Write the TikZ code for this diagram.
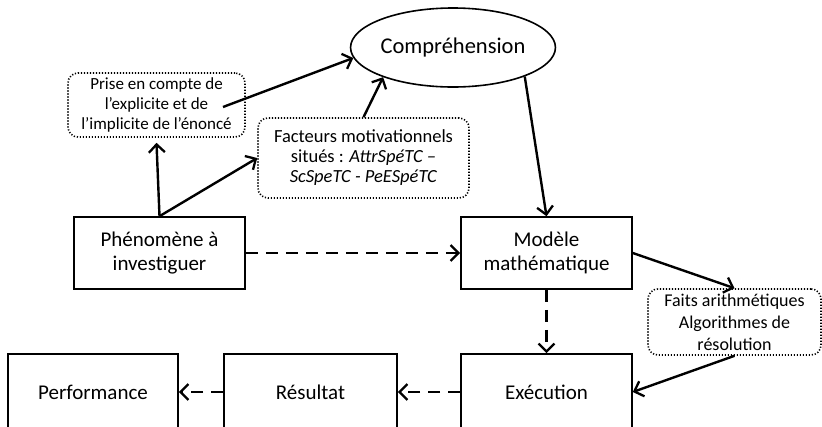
\documentclass[tikz,border=0pt]{standalone}
\usepackage{fontspec}
\setmainfont{Carlito}
\usetikzlibrary{arrows.meta,shapes.geometric}

\tikzset{
  box/.style={draw, line width=1.6pt, align=center, inner sep=0pt,
    minimum width=171pt, minimum height=72pt, font=\fontsize{21}{24}\selectfont},
  note/.style={draw, line width=1.6pt, dash pattern=on 1.2pt off 1.8pt,
    rounded corners=10pt, align=center, inner sep=0pt},
  link/.style={line width=2.4pt, -{Straight Barb[length=8pt,width=16pt,line width=2.3pt]}},
  dlink/.style={link, dash pattern=on 12pt off 8pt},
}

\begin{document}
\begin{tikzpicture}[x=1pt, y=-1pt]
\useasboundingbox (0,0) rectangle (822,426);
\clip (0,0) rectangle (822,426);

% ellipse at the top
\node[draw, ellipse, line width=1.6pt, minimum width=202pt, minimum height=79pt,
      inner sep=0pt, font=\fontsize{22.5}{26}\selectfont] (comp) at (453,47.5) {Compréhension};

% dotted notes
\node[note, minimum width=177pt, minimum height=64pt, font=\fontsize{17}{20}\selectfont]
  (prise) at (156.5,105) {Prise en compte de\\l’explicite et de\\l’implicite de l’énoncé};
\node[note, minimum width=211pt, minimum height=80pt, font=\fontsize{18.5}{20}\selectfont]
  (fact) at (363.5,158) {Facteurs motivationnels\\situés : \textit{AttrSpéTC –}\\\textit{ScSpeTC - PeESpéTC}};
\node[note, minimum width=173pt, minimum height=66pt, font=\fontsize{18}{22}\selectfont]
  (faits) at (734.5,322) {Faits arithmétiques\\Algorithmes de\\résolution};

% solid boxes
\node[box] (phen) at (159.5,253) {Phénomène à\\investiguer};
\node[box] (mod)  at (546.5,253) {Modèle\\mathématique};
\node[box, minimum height=76pt] (exec) at (546.5,392) {Exécution};
\node[box, minimum width=173pt, minimum height=76pt] (res) at (310.5,392) {Résultat};
\node[box, minimum width=170pt, minimum height=76pt] (perf) at (93,392) {Performance};

% the arrow out of the first note starts inside it
\coordinate (pstart) at (223,107);

% solid connectors
\draw[link] (pstart) -- (comp.186);
\draw[link] (fact.north) -- (comp.203);
\draw[link] (phen.north) -- ([yshift=-5pt]prise.south);
\draw[link] (phen.north) -- (fact.west);
\draw[link] (comp.-22) -- (mod.north);
\draw[link] (mod.east) -- (faits.north);
\draw[link] (faits.south) -- (exec.east);

% dashed connectors
\draw[dlink] (phen.east) -- (mod.west);
\draw[dlink] (mod.south) -- (exec.north);
\draw[dlink] (exec.west) -- (res.east);
\draw[dlink] (res.west) -- (perf.east);
\end{tikzpicture}
\end{document}
